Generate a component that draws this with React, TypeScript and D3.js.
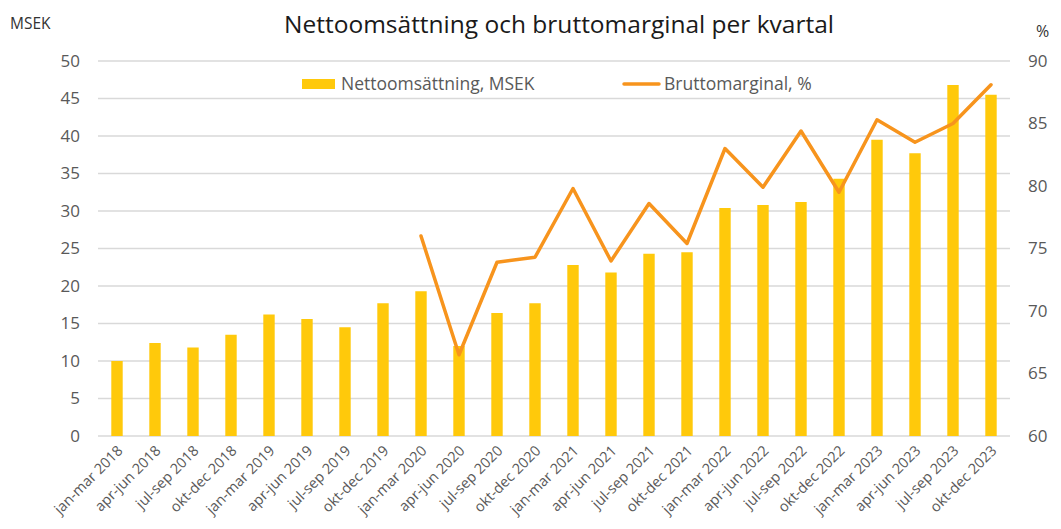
import { useEffect, useRef } from "react";
import * as d3 from "d3";

const quarters = [
  "jan-mar 2018", "apr-jun 2018", "jul-sep 2018", "okt-dec 2018",
  "jan-mar 2019", "apr-jun 2019", "jul-sep 2019", "okt-dec 2019",
  "jan-mar 2020", "apr-jun 2020", "jul-sep 2020", "okt-dec 2020",
  "jan-mar 2021", "apr-jun 2021", "jul-sep 2021", "okt-dec 2021",
  "jan-mar 2022", "apr-jun 2022", "jul-sep 2022", "okt-dec 2022",
  "jan-mar 2023", "apr-jun 2023", "jul-sep 2023", "okt-dec 2023",
];

const nettoomsattning = [
  10.0, 12.4, 11.8, 13.5,
  16.2, 15.6, 14.5, 17.7,
  19.3, 12.0, 16.4, 17.7,
  22.8, 21.8, 24.3, 24.5,
  30.4, 30.8, 31.2, 34.3,
  39.5, 37.7, 46.8, 45.5,
];

// null = inget värde före 2020
const bruttomarginal: (number | null)[] = [
  null, null, null, null,
  null, null, null, null,
  76.0, 66.5, 73.9, 74.3,
  79.8, 74.0, 78.6, 75.4,
  83.0, 79.9, 84.4, 79.5,
  85.3, 83.5, 85.0, 88.1,
];

const leftTicks = [0, 5, 10, 15, 20, 25, 30, 35, 40, 45, 50];
const rightTicks = [60, 65, 70, 75, 80, 85, 90];

const FONT = "'Open Sans', sans-serif";
const BAR = "#FFC90B";
const LINE = "#F7941D";
const GRID = "#D9D9D9";
const TEXT = "#595959";

export default function App() {
  const ref = useRef<SVGSVGElement | null>(null);

  useEffect(() => {
    if (!ref.current) return;
    ref.current.innerHTML = "";

    const width = 1061,
      height = 529;
    const margin = { top: 61, right: 51, bottom: 93, left: 98 };
    const innerW = width - margin.left - margin.right;
    const innerH = height - margin.top - margin.bottom;

    const svg = d3.select(ref.current).style("font-family", FONT);

    // title
    svg
      .append("text")
      .attr("x", 559)
      .attr("y", 33)
      .attr("text-anchor", "middle")
      .attr("font-size", 24.5)
      .attr("fill", "#1a1a1a")
      .text("Nettoomsättning och bruttomarginal per kvartal");

    svg
      .append("text")
      .attr("x", 10)
      .attr("y", 29)
      .attr("font-size", 15.5)
      .attr("fill", "#333")
      .text("MSEK");

    svg
      .append("text")
      .attr("x", 1036)
      .attr("y", 37)
      .attr("font-size", 16)
      .attr("fill", "#333")
      .text("%");

    const g = svg
      .append("g")
      .attr("transform", `translate(${margin.left},${margin.top})`);

    const x = d3
      .scaleBand<string>()
      .domain(quarters)
      .range([0, innerW])
      .paddingInner(0.7)
      .paddingOuter(0.35);

    const y = d3.scaleLinear().domain([0, 50]).range([innerH, 0]);
    const y2 = d3.scaleLinear().domain([60, 90]).range([innerH, 0]);

    // grid
    g.append("g")
      .selectAll("line")
      .data(leftTicks)
      .join("line")
      .attr("x1", 0)
      .attr("x2", innerW)
      .attr("y1", (d) => y(d))
      .attr("y2", (d) => y(d))
      .attr("stroke", GRID)
      .attr("stroke-width", 1.5);

    // left axis labels
    g.append("g")
      .selectAll("text")
      .data(leftTicks)
      .join("text")
      .attr("x", -18)
      .attr("y", (d) => y(d))
      .attr("dy", "0.35em")
      .attr("text-anchor", "end")
      .attr("font-size", 17)
      .attr("fill", TEXT)
      .text((d) => d);

    // right axis labels
    g.append("g")
      .selectAll("text")
      .data(rightTicks)
      .join("text")
      .attr("x", innerW + 18)
      .attr("y", (d) => y2(d))
      .attr("dy", "0.35em")
      .attr("text-anchor", "start")
      .attr("font-size", 17)
      .attr("fill", TEXT)
      .text((d) => d);

    // bars
    g.append("g")
      .selectAll("rect")
      .data(nettoomsattning)
      .join("rect")
      .attr("x", (_, i) => x(quarters[i])!)
      .attr("y", (d) => y(d))
      .attr("width", x.bandwidth())
      .attr("height", (d) => innerH - y(d))
      .attr("fill", BAR);

    // line
    const line = d3
      .line<number | null>()
      .defined((d) => d !== null)
      .x((_, i) => x(quarters[i])! + x.bandwidth() / 2)
      .y((d) => y2(d as number));

    g.append("path")
      .datum(bruttomarginal)
      .attr("fill", "none")
      .attr("stroke", LINE)
      .attr("stroke-width", 3.5)
      .attr("stroke-linejoin", "round")
      .attr("stroke-linecap", "round")
      .attr("d", line);

    // x labels
    g.append("g")
      .selectAll("text")
      .data(quarters)
      .join("text")
      .attr(
        "transform",
        (d) =>
          `translate(${x(d)! + x.bandwidth() / 2 + 3},${innerH + 12}) rotate(-45)`
      )
      .attr("text-anchor", "end")
      .attr("dy", "0.35em")
      .attr("font-size", 14.5)
      .attr("fill", TEXT)
      .text((d) => d);

    // legend
    const leg = svg.append("g");
    leg
      .append("rect")
      .attr("x", 302)
      .attr("y", 79)
      .attr("width", 33)
      .attr("height", 10)
      .attr("fill", BAR);
    leg
      .append("text")
      .attr("x", 341)
      .attr("y", 90)
      .attr("font-size", 17.5)
      .attr("fill", TEXT)
      .text("Nettoomsättning, MSEK");
    leg
      .append("line")
      .attr("x1", 624)
      .attr("x2", 659)
      .attr("y1", 84)
      .attr("y2", 84)
      .attr("stroke", LINE)
      .attr("stroke-width", 3.5)
      .attr("stroke-linecap", "round");
    leg
      .append("text")
      .attr("x", 664)
      .attr("y", 90)
      .attr("font-size", 17.5)
      .attr("fill", TEXT)
      .text("Bruttomarginal, %");
  }, []);

  return (
    <svg
      ref={ref}
      width={1061}
      height={529}
      style={{ position: "absolute", left: 0, top: 0, background: "#fff" }}
    />
  );
}
